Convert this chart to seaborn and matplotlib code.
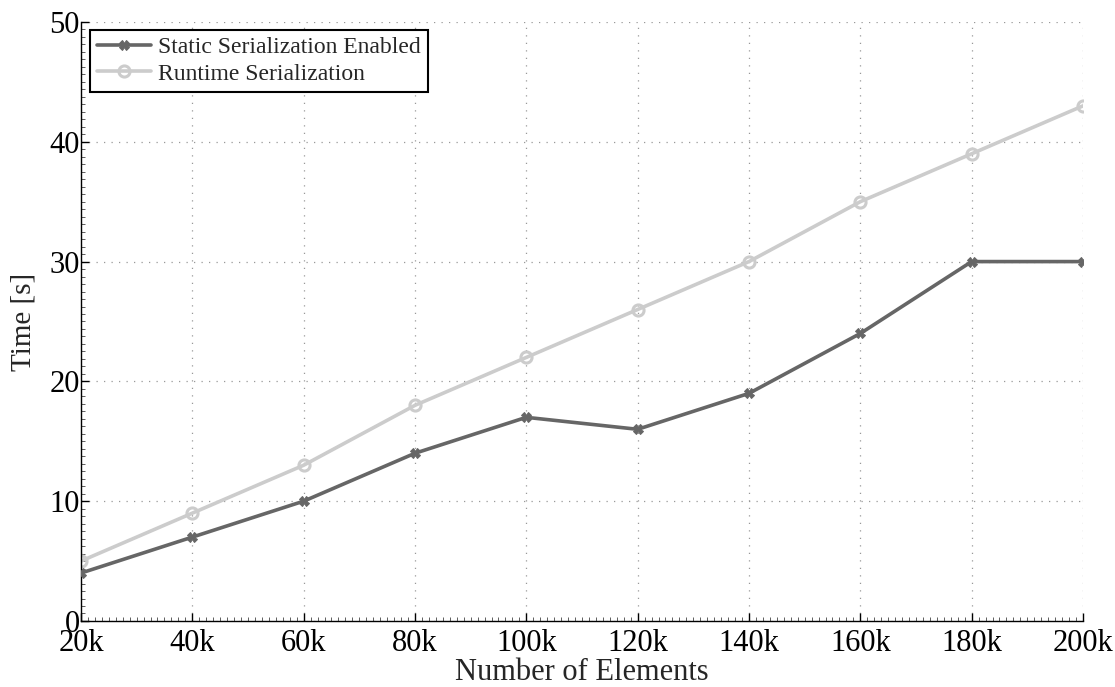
import matplotlib
matplotlib.use("Agg")
import matplotlib.pyplot as plt
import seaborn as sns
import pandas as pd
from matplotlib.ticker import MultipleLocator

elements = [20000, 40000, 60000, 80000, 100000, 120000, 140000, 160000, 180000, 200000]
tick_labels = ["20k", "40k", "60k", "80k", "100k", "120k", "140k", "160k", "180k", "200k"]
static_enabled = [4, 7, 10, 14, 17, 16, 19, 24, 30, 30]
runtime = [5, 9, 13, 18, 22, 26, 30, 35, 39, 43]

sns.set_theme(style="white")
plt.rcParams['font.family'] = ['Liberation Serif', 'DejaVu Serif']

fig = plt.figure(figsize=(11.15, 6.87), dpi=100)
ax = fig.add_axes([0.0726, 0.0961, 0.8987, 0.8719])

df1 = pd.DataFrame({"x": elements, "y": static_enabled})
df2 = pd.DataFrame({"x": elements, "y": runtime})

sns.lineplot(data=df1, x="x", y="y", ax=ax, color="#666666", linewidth=2.6,
             marker="X", markersize=7, markeredgecolor="#666666",
             label="Static Serialization Enabled", zorder=3)
sns.lineplot(data=df2, x="x", y="y", ax=ax, color="#cccccc", linewidth=2.6,
             marker="o", markersize=8, markerfacecolor="none", markeredgewidth=2.2,
             markeredgecolor="#cccccc",
             label="Runtime Serialization", zorder=2)

ax.set_xlim(20000, 200000)
ax.set_ylim(0, 50)
ax.set_xticks(elements)
ax.set_xticklabels(tick_labels)
ax.set_yticks([0, 10, 20, 30, 40, 50])
ax.xaxis.set_minor_locator(MultipleLocator(1250))
ax.yaxis.set_minor_locator(MultipleLocator(10 / 16))

ax.grid(True, which="major", linestyle=(0, (1, 5)), color="#999999", linewidth=0.9)
for s in ["top", "right"]:
    ax.spines[s].set_visible(False)
for s in ["left", "bottom"]:
    ax.spines[s].set_color("black")
    ax.spines[s].set_linewidth(1.0)

ax.tick_params(axis="both", which="major", direction="in", length=6, width=1,
               labelsize=22, colors="black", left=True, bottom=True)
ax.tick_params(axis="x", which="major", pad=6)
ax.tick_params(axis="y", which="major", pad=1)
ax.tick_params(axis="both", which="minor", direction="in", length=3, width=0.6,
               colors="#444444", left=True, bottom=True)

ax.set_xlabel("Number of Elements", fontsize=22, labelpad=0)
ax.set_ylabel("Time [s]", fontsize=21, labelpad=9)

leg = ax.legend(loc="upper left", fontsize=17, frameon=True, fancybox=False,
                edgecolor="black", framealpha=1, borderpad=0.3, labelspacing=0.2,
                handlelength=2.3, handletextpad=0.3, borderaxespad=0,
                bbox_to_anchor=(0.009, 0.987))
leg.get_frame().set_linewidth(1.5)

fig.savefig("out.png", dpi=100)
